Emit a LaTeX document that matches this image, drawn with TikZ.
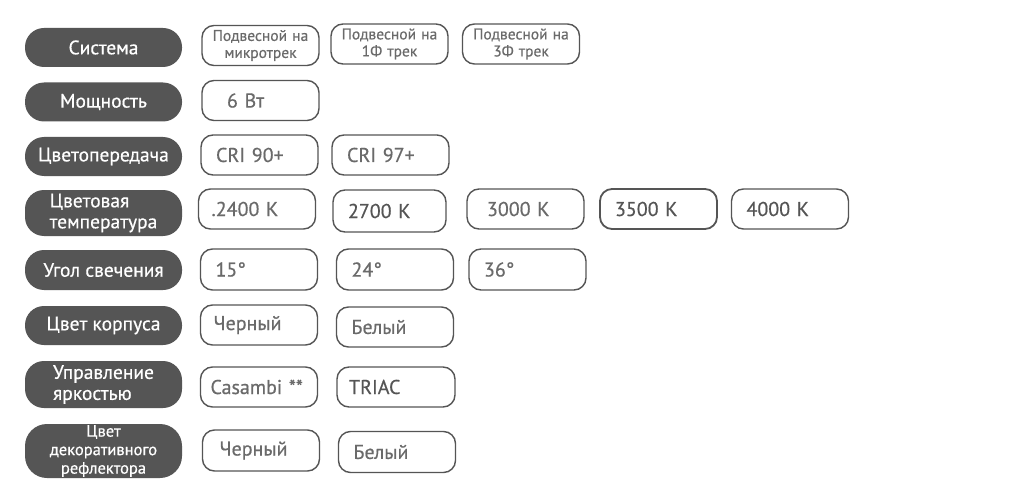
\documentclass[tikz,border=0pt]{standalone}
\usepackage{fontspec}
\setmainfont{PT Sans}[FakeBold=0.5]
\definecolor{pillgray}{HTML}{555555}
\definecolor{choicegray}{HTML}{6A6A6A}
\begin{document}
\begin{tikzpicture}[x=1pt,y=-1pt,
   param/.style={fill=pillgray,rounded corners=19pt,minimum width=157pt,minimum height=39pt,
      inner sep=0pt,text=white,align=center,font=\fontsize{19.5}{21}\selectfont},
   choice/.style={draw=pillgray,line width=1.4pt,rounded corners=12pt,minimum height=40pt,
      inner xsep=15pt,text width=87pt,align=left,text=choicegray,font=\fontsize{20}{22}\selectfont},
   mount/.style={choice,inner xsep=3pt,text width=111pt,align=center,font=\fontsize{15.5}{17}\selectfont}]
   \useasboundingbox[fill=white] (0,0) rectangle (1024,497);
   % Система
   \node[param] (sys) at (103.5,47.5) {Система};
   \node[mount] (sysa) at (260.5,45.5) {Подвесной на\\микротрек};
   \node[mount] (sysb) at (389.5,44) {Подвесной на\\1Ф трек};
   \node[mount] (sysc) at (521,44) {Подвесной на\\3Ф трек};
   % Мощность
   \node[param] (pwr) at (103.5,102) {Мощность};
   \node[choice,inner xsep=25pt,text width=67pt] (pwra) at (260.5,100.5) {6 Вт};
   % Цветопередача
   \node[param] (cri) at (103.5,156.5) {Цветопередача};
   \node[choice] (cria) at (259.5,155) {CRI 90+};
   \node[choice] (crib) at (390.5,155) {CRI 97+};
   % Цветовая температура
   \node[param,minimum height=46pt,align=left] (cct) at (103.5,213) {Цветовая\\температура};
   \node[choice,inner xsep=13pt,text width=91pt] (ccta) at (257,209) {.2400 K};
   \node[choice,minimum height=42pt,text width=83pt,text=pillgray] (cctb) at (389.5,211) {2700 K};
   \node[choice,inner xsep=20pt,text width=77pt] (cctc) at (525.5,209) {3000 K};
   \node[choice,line width=1.8pt,text=pillgray] (cctd) at (658.5,209) {3500 K};
   \node[choice,text=pillgray] (ccte) at (790,209) {4000 K};
   % Угол свечения
   \node[param,minimum height=40pt] (beam) at (103.5,270) {Угол свечения};
   \node[choice,minimum height=41pt] (beama) at (259,269.5) {15°};
   \node[choice,minimum height=41pt] (beamb) at (395,269.5) {24°};
   \node[choice,minimum height=41pt] (beamc) at (527.5,269.5) {36°};
   % Цвет корпуса
   \node[param] (body) at (103.5,325.5) {Цвет корпуса};
   \node[choice,inner xsep=13pt,text width=91pt] (bodya) at (259,325) {Черный};
   \node[choice] (bodyb) at (395,327) {Белый};
   % Управление яркостью
   \node[param,minimum height=47pt,align=left] (dim) at (103.5,384.5) {Управление\\яркостью};
   \node[choice,inner xsep=10pt,text width=97pt] (dima) at (259,387) {Casambi **};
   \node[choice,minimum width=118pt,inner xsep=12pt,text width=94pt,text=pillgray] (dimb) at (396,387) {TRIAC};
   % Цвет декоративного рефлектора
   \node[param,minimum height=54pt,rounded corners=22pt,font=\fontsize{16.5}{18.5}\selectfont] (refl) at (103.5,451) {Цвет\\декоративного\\рефлектора};
   \node[choice,inner xsep=17pt,text width=83pt,minimum height=41pt] (refla) at (261,450.5) {Черный};
   \node[choice,minimum height=41pt] (reflb) at (397,452) {Белый};
\end{tikzpicture}
\end{document}
